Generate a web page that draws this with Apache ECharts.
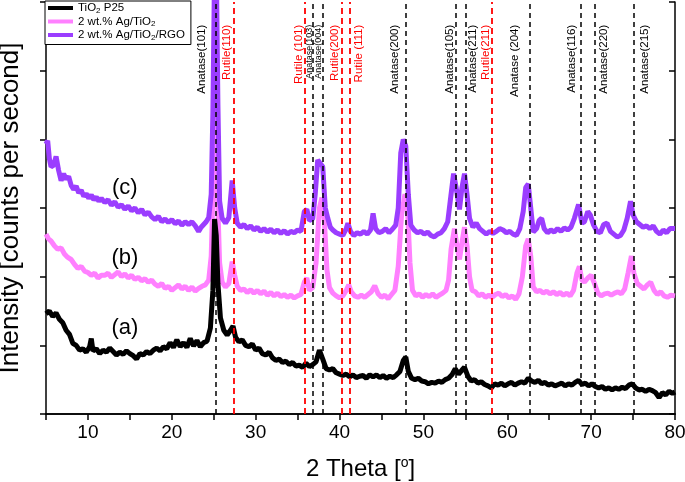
<!DOCTYPE html>
<html><head><meta charset="utf-8">
<script src="https://cdn.jsdelivr.net/npm/echarts@6/dist/echarts.min.js"></script>
<style>html,body{margin:0;padding:0;background:#fff}#c{width:685px;height:482px}</style>
</head><body><div id="c"></div>
<script>
// ---------- data ----------
const seriesNames = ['TiO2 P25', '2 wt.% Ag/TiO2', '2 wt.% Ag/TiO2/RGO'];
const sampleTags = ['(a)', '(b)', '(c)'];
const sampleTagX = [14.4, 14.4, 14.4];
const sampleTagY = [1.25, 2.28, 3.29];
const xTickLabels = [10, 20, 30, 40, 50, 60, 70, 80];
const anataseLines = [25.2, 36.8, 38.0, 47.9, 53.9, 55.1, 62.7, 68.8, 70.4, 75.1];
const rutileLines = [27.4, 35.9, 40.3, 41.2, 58.2];
const peakLabelText = ['Anatase(101)', 'Rutile(110)', 'Rutile (101)', 'Anatase(103)', 'Anatase(004)',
  'Rutile(200)', 'Rutile (111)', 'Anatase(200)', 'Anatase(105)', 'Anatase(211)', 'Rutile(211)',
  'Anatase (204)', 'Anatase(116)', 'Anatase(220)', 'Anatase(215)'];
const peakLabelX = [23.6, 26.6, 35.1, 36.4, 37.5, 39.4, 42.3, 46.6, 53.1, 55.9, 57.5, 60.9, 67.7, 71.5, 76.4];
const peakLabelPhase = ['A', 'R', 'R', 'A', 'A', 'R', 'R', 'A', 'A', 'A', 'R', 'A', 'A', 'A', 'A'];

const tiO2P25 = [
[5.0,1.46],[5.4,1.50],[5.8,1.42],[6.2,1.47],[6.6,1.38],[7.0,1.33],[7.4,1.22],[7.8,1.16],[8.2,1.03],[8.6,1.00],
[9.0,0.93],[9.4,0.95],[9.8,0.90],[10.2,0.98],[10.4,1.10],[10.6,0.92],[11.0,0.95],[11.4,0.88],[11.8,0.93],[12.2,0.90],
[12.6,0.96],[13.0,0.91],[13.4,0.86],[13.8,0.90],[14.2,0.87],[14.6,0.92],[15.0,0.88],[15.4,0.85],[15.8,0.80],[16.2,0.88],
[16.6,0.86],[17.0,0.91],[17.4,0.88],[17.8,0.93],[18.2,0.96],[18.6,0.92],[19.0,0.98],[19.4,0.95],[19.8,1.04],[20.2,0.97],
[20.6,1.08],[21.0,0.98],[21.4,1.04],[21.8,0.97],[22.2,1.10],[22.6,0.99],[23.0,1.07],[23.4,0.98],[23.8,1.04],[24.2,1.06],
[24.6,1.25],[24.9,1.80],[25.1,2.84],[25.3,2.60],[25.5,1.90],[25.8,1.40],[26.2,1.22],[26.6,1.15],[27.0,1.22],[27.3,1.28],
[27.6,1.12],[28.0,1.05],[28.4,1.08],[28.8,1.00],[29.2,0.98],[29.6,1.02],[30.0,0.93],[30.4,0.96],[30.8,0.88],[31.2,0.86],
[31.6,0.90],[32.0,0.82],[32.4,0.78],[32.8,0.80],[33.2,0.75],[33.6,0.77],[34.0,0.72],[34.4,0.75],[34.8,0.70],[35.2,0.71],
[35.6,0.68],[36.0,0.74],[36.4,0.69],[36.8,0.72],[37.2,0.76],[37.6,0.93],[38.0,0.80],[38.4,0.66],[38.8,0.64],[39.2,0.66],
[39.6,0.60],[40.0,0.58],[40.4,0.56],[40.8,0.58],[41.2,0.54],[41.6,0.57],[42.0,0.53],[42.4,0.55],[42.8,0.56],[43.2,0.52],
[43.6,0.57],[44.0,0.54],[44.4,0.57],[44.8,0.53],[45.2,0.56],[45.6,0.52],[46.0,0.55],[46.4,0.53],[46.8,0.57],[47.2,0.62],
[47.6,0.78],[47.9,0.83],[48.2,0.62],[48.6,0.52],[49.0,0.50],[49.4,0.52],[49.8,0.48],[50.2,0.47],[50.6,0.44],[51.0,0.46],
[51.4,0.45],[51.8,0.48],[52.2,0.46],[52.6,0.50],[53.0,0.52],[53.4,0.57],[53.8,0.66],[54.2,0.58],[54.6,0.64],[54.9,0.68],
[55.3,0.55],[55.7,0.48],[56.1,0.50],[56.5,0.45],[56.9,0.47],[57.3,0.43],[57.7,0.41],[58.1,0.38],[58.5,0.44],[58.9,0.42],
[59.3,0.45],[59.7,0.41],[60.1,0.44],[60.5,0.46],[60.9,0.42],[61.3,0.45],[61.7,0.47],[62.1,0.45],[62.5,0.52],[62.9,0.48],
[63.3,0.46],[63.7,0.49],[64.1,0.44],[64.5,0.46],[64.9,0.42],[65.3,0.44],[65.7,0.41],[66.1,0.43],[66.5,0.45],[66.9,0.41],
[67.3,0.44],[67.7,0.42],[68.1,0.46],[68.5,0.49],[68.9,0.43],[69.3,0.45],[69.7,0.41],[70.1,0.44],[70.5,0.40],[70.9,0.38],
[71.3,0.40],[71.7,0.36],[72.1,0.38],[72.5,0.35],[72.9,0.38],[73.3,0.36],[73.7,0.39],[74.1,0.37],[74.5,0.42],[74.9,0.44],
[75.3,0.38],[75.7,0.35],[76.1,0.36],[76.5,0.33],[76.9,0.36],[77.3,0.34],[77.7,0.31],[78.1,0.24],[78.5,0.31],[78.9,0.28],
[79.3,0.33],[79.7,0.30],[80.0,0.32]];

const agTiO2 = [
[5.0,2.62],[5.3,2.55],[5.6,2.52],[6.0,2.45],[6.4,2.40],[6.8,2.42],[7.2,2.33],[7.6,2.28],[8.0,2.25],[8.4,2.18],
[8.8,2.12],[9.2,2.15],[9.6,2.08],[10.0,2.06],[10.4,2.02],[10.8,2.05],[11.2,1.98],[11.6,2.02],[12.0,2.02],[12.4,2.05],
[12.8,1.99],[13.2,2.03],[13.6,2.07],[14.0,2.00],[14.4,2.04],[14.8,1.98],[15.2,2.02],[15.6,1.96],[16.0,1.99],[16.4,1.94],
[16.8,1.97],[17.2,1.92],[17.6,1.95],[18.0,1.89],[18.4,1.86],[18.8,1.90],[19.2,1.83],[19.6,1.86],[20.0,1.80],[20.4,1.84],
[20.8,1.88],[21.2,1.82],[21.6,1.86],[22.0,1.80],[22.4,1.85],[22.8,1.79],[23.2,1.83],[23.6,1.86],[24.0,1.88],[24.4,1.95],
[24.7,2.30],[24.9,3.20],[25.1,4.80],[25.3,4.20],[25.5,3.00],[25.7,2.20],[26.0,1.92],[26.4,1.85],[26.8,1.90],[27.2,2.22],
[27.5,2.02],[27.8,1.86],[28.2,1.80],[28.6,1.82],[29.0,1.77],[29.4,1.81],[29.8,1.76],[30.2,1.80],[30.6,1.75],[31.0,1.79],
[31.4,1.73],[31.8,1.77],[32.2,1.72],[32.6,1.76],[33.0,1.71],[33.4,1.74],[33.8,1.70],[34.2,1.73],[34.6,1.69],[35.0,1.72],
[35.4,1.74],[35.8,1.92],[36.1,1.98],[36.4,1.80],[36.8,1.84],[37.2,2.20],[37.6,3.00],[37.9,3.15],[38.2,2.80],[38.5,2.10],
[38.8,1.84],[39.2,1.76],[39.6,1.72],[40.0,1.69],[40.4,1.72],[40.8,1.80],[41.1,1.88],[41.4,1.78],[41.8,1.72],[42.2,1.70],
[42.6,1.73],[43.0,1.70],[43.4,1.74],[43.8,1.78],[44.2,1.87],[44.6,1.75],[45.0,1.70],[45.4,1.73],[45.8,1.68],[46.2,1.74],
[46.6,1.80],[47.0,2.15],[47.4,2.90],[47.8,3.20],[48.1,3.00],[48.4,2.20],[48.7,1.80],[49.1,1.72],[49.5,1.75],[49.9,1.70],
[50.3,1.74],[50.7,1.71],[51.1,1.75],[51.5,1.70],[51.9,1.73],[52.3,1.76],[52.7,1.80],[53.0,1.95],[53.3,2.40],[53.7,2.70],
[54.0,2.45],[54.3,2.25],[54.6,2.50],[54.9,2.72],[55.2,2.45],[55.5,2.00],[55.8,1.80],[56.2,1.78],[56.6,1.72],[57.0,1.75],
[57.4,1.70],[57.8,1.73],[58.2,1.70],[58.6,1.74],[59.0,1.76],[59.4,1.71],[59.8,1.74],[60.2,1.69],[60.6,1.72],[61.0,1.67],
[61.4,1.75],[61.8,2.00],[62.2,2.45],[62.5,2.55],[62.8,2.30],[63.1,1.85],[63.5,1.78],[63.9,1.80],[64.3,1.76],[64.7,1.79],
[65.1,1.75],[65.5,1.78],[65.9,1.74],[66.3,1.77],[66.7,1.73],[67.1,1.76],[67.5,1.72],[67.9,1.80],[68.3,2.05],[68.6,2.15],
[68.9,1.95],[69.2,1.92],[69.6,1.98],[70.0,2.02],[70.4,1.90],[70.8,1.76],[71.2,1.72],[71.6,1.75],[72.0,1.76],[72.4,1.73],
[72.8,1.76],[73.2,1.78],[73.6,1.75],[74.0,1.82],[74.4,2.05],[74.8,2.30],[75.1,2.05],[75.5,1.90],[75.9,1.86],[76.3,1.82],
[76.7,1.88],[77.1,1.92],[77.5,1.80],[77.9,1.74],[78.3,1.78],[78.7,1.72],[79.1,1.70],[79.5,1.73],[80.0,1.72]];

const agTiO2RGO = [
[5.0,3.93],[5.2,3.98],[5.4,3.72],[5.6,3.60],[5.9,3.62],[6.2,3.75],[6.5,3.55],[6.8,3.40],[7.1,3.50],[7.4,3.42],
[7.7,3.46],[8.0,3.33],[8.3,3.27],[8.6,3.32],[8.9,3.22],[9.2,3.26],[9.5,3.17],[9.8,3.21],[10.1,3.14],[10.4,3.19],
[10.7,3.12],[11.0,3.16],[11.3,3.10],[11.6,3.14],[12.0,3.08],[12.4,3.12],[12.8,3.04],[13.2,3.09],[13.6,3.01],[14.0,3.05],
[14.4,2.98],[14.8,3.03],[15.2,2.96],[15.6,3.00],[16.0,2.93],[16.4,2.98],[16.8,2.90],[17.2,2.94],[17.6,2.87],[18.0,2.83],
[18.4,2.88],[18.8,2.80],[19.2,2.84],[19.6,2.79],[20.0,2.83],[20.4,2.77],[20.8,2.81],[21.2,2.75],[21.6,2.80],[22.0,2.76],
[22.4,2.80],[22.8,2.74],[23.2,2.66],[23.5,2.72],[23.8,2.76],[24.1,2.80],[24.4,2.86],[24.7,3.20],[24.9,4.40],[25.1,6.50],
[25.3,6.60],[25.5,4.50],[25.7,3.10],[26.0,2.85],[26.4,2.78],[26.8,2.86],[27.2,3.40],[27.5,3.00],[27.8,2.78],[28.2,2.72],
[28.6,2.76],[29.0,2.70],[29.4,2.74],[29.8,2.68],[30.2,2.72],[30.6,2.66],[31.0,2.70],[31.4,2.65],[31.8,2.69],[32.2,2.64],
[32.6,2.68],[33.0,2.63],[33.4,2.67],[33.8,2.62],[34.2,2.66],[34.6,2.64],[35.0,2.68],[35.4,2.66],[35.8,2.95],[36.1,2.98],
[36.4,2.82],[36.8,2.84],[37.1,3.20],[37.4,3.70],[37.7,3.65],[38.0,3.60],[38.3,3.00],[38.6,2.85],[38.9,2.72],[39.2,2.68],
[39.6,2.64],[40.0,2.62],[40.4,2.60],[40.8,2.70],[41.0,2.78],[41.3,2.66],[41.7,2.60],[42.1,2.64],[42.5,2.62],[42.9,2.66],
[43.3,2.62],[43.7,2.68],[44.0,2.92],[44.3,2.70],[44.7,2.64],[45.1,2.66],[45.5,2.70],[45.9,2.64],[46.3,2.69],[46.7,2.75],
[47.0,3.00],[47.3,3.80],[47.6,4.00],[47.9,3.90],[48.2,3.20],[48.5,2.75],[48.9,2.68],[49.3,2.64],[49.7,2.66],[50.1,2.62],
[50.5,2.65],[50.9,2.60],[51.3,2.58],[51.7,2.62],[52.1,2.64],[52.5,2.70],[52.9,2.80],[53.2,3.10],[53.6,3.50],[53.9,3.30],
[54.3,2.98],[54.6,3.30],[54.9,3.50],[55.2,3.20],[55.5,2.85],[55.9,2.72],[56.3,2.78],[56.7,2.70],[57.1,2.66],[57.5,2.62],
[57.9,2.66],[58.3,2.63],[58.7,2.66],[59.1,2.70],[59.5,2.68],[59.9,2.64],[60.3,2.66],[60.7,2.62],[61.1,2.60],[61.5,2.70],
[61.9,2.95],[62.2,3.30],[62.5,3.35],[62.8,3.00],[63.1,2.65],[63.5,2.70],[63.8,2.82],[64.1,2.85],[64.4,2.70],[64.8,2.64],
[65.2,2.68],[65.6,2.65],[66.0,2.70],[66.4,2.66],[66.8,2.71],[67.2,2.68],[67.6,2.72],[68.0,2.85],[68.5,3.05],[68.9,2.78],
[69.2,2.80],[69.6,2.95],[69.9,2.90],[70.3,2.75],[70.7,2.66],[71.1,2.64],[71.5,2.76],[71.9,2.78],[72.3,2.66],[72.7,2.62],
[73.1,2.58],[73.5,2.60],[73.9,2.68],[74.3,2.85],[74.7,3.10],[75.0,2.90],[75.4,2.80],[75.8,2.76],[76.2,2.72],[76.6,2.74],
[77.0,2.70],[77.4,2.74],[77.8,2.66],[78.2,2.62],[78.6,2.68],[79.0,2.64],[79.4,2.70],[80.0,2.70]];

// ---------- chart ----------
const FONT = 'Liberation Sans, Arial, Helvetica, sans-serif';
const COLORS = ['#000000', '#ff80ff', '#9b3dff'];
const LABEL_TOP = 5.67;
const smallLabels = {'Anatase(103)': 1, 'Anatase(004)': 1};

const chart = echarts.init(document.getElementById('c'), null, {renderer: 'canvas'});

function lineSeries(i, data, z) {
  return {
    name: seriesNames[i], type: 'line', data: data, showSymbol: false, symbol: 'none',
    lineStyle: {color: COLORS[i], width: 5}, itemStyle: {color: COLORS[i]},
    z: z, clip: true, animation: false
  };
}

function legendFmt(n) {
  const parts = n.split('TiO2');
  let out = '';
  parts.forEach((p, i) => {
    if (p) out += '{n|' + p + '}';
    if (i < parts.length - 1) out += '{n|TiO}{s|2}';
  });
  return out;
}

const option = {
  animation: false,
  backgroundColor: '#ffffff',
  textStyle: {fontFamily: FONT},
  grid: {left: 46, right: 10, top: 2, bottom: 68, containLabel: false, outerBoundsMode: 'none'},
  legend: {
    data: seriesNames, orient: 'vertical', left: 45, top: 1,
    icon: 'rect', itemWidth: 25, itemHeight: 4, itemGap: 1,
    padding: [1, 6, 3, 3], borderColor: '#000', borderWidth: 1, backgroundColor: '#fff',
    formatter: legendFmt,
    textStyle: {
      fontFamily: FONT, fontSize: 11.5, color: '#000',
      rich: {n: {fontFamily: FONT, fontSize: 11.5, color: '#000', lineHeight: 13},
             s: {fontFamily: FONT, fontSize: 8, color: '#000', lineHeight: 8, verticalAlign: 'bottom'}}
    },
    z: 20
  },
  xAxis: [{
    type: 'value', position: 'bottom', min: 5, max: 80, interval: 5,
    name: '2 Theta [{sup|o}]', nameLocation: 'middle', nameGap: 42,
    nameTextStyle: {fontFamily: FONT, fontSize: 24, color: '#000',
      rich: {sup: {fontFamily: FONT, fontSize: 14, color: '#000', verticalAlign: 'top', lineHeight: 26}}},
    axisLine: {show: true, lineStyle: {color: '#000', width: 1.5}},
    axisTick: {show: true, inside: false, length: 6, lineStyle: {color: '#000', width: 1.5}},
    axisLabel: {show: true, fontFamily: FONT, fontSize: 19, color: '#000', margin: 9,
      formatter: function (v) { return xTickLabels.indexOf(v) >= 0 ? String(v) : ''; }},
    splitLine: {show: false}
  }, {
    type: 'value', position: 'top', min: 5, max: 80, interval: 5,
    axisLine: {show: true, lineStyle: {color: '#000', width: 1.5}},
    axisTick: {show: true, inside: true, length: 6, lineStyle: {color: '#000', width: 1.5}},
    axisLabel: {show: false}, splitLine: {show: false}
  }],
  yAxis: [{
    type: 'value', position: 'left', min: 0, max: 6, interval: 1,
    name: 'Intensity [counts per second]', nameLocation: 'middle', nameGap: 22,
    nameTextStyle: {fontFamily: FONT, fontSize: 26, color: '#000'},
    axisLine: {show: true, lineStyle: {color: '#000', width: 1.5}},
    axisTick: {show: true, inside: false, length: 6, lineStyle: {color: '#000', width: 1.5}},
    axisLabel: {show: false}, splitLine: {show: false}
  }, {
    type: 'value', position: 'right', min: 0, max: 6, interval: 1,
    axisLine: {show: true, lineStyle: {color: '#000', width: 1.5}},
    axisTick: {show: true, inside: true, length: 6, lineStyle: {color: '#000', width: 1.5}},
    axisLabel: {show: false}, splitLine: {show: false}
  }],
  series: [
    lineSeries(1, agTiO2, 2),
    lineSeries(2, agTiO2RGO, 3),
    lineSeries(0, tiO2P25, 4),
    {
      type: 'line', data: [], silent: true, z: 6,
      markLine: {
        silent: true, symbol: ['none', 'none'], animation: false, label: {show: false},
        lineStyle: {type: [5, 4], color: '#000', width: 1.5},
        data: anataseLines.map(v => ({xAxis: v}))
      }
    },
    {
      type: 'line', data: [], silent: true, z: 6,
      markLine: {
        silent: true, symbol: ['none', 'none'], animation: false, label: {show: false},
        lineStyle: {type: [6, 4], color: '#ff0000', width: 1.8},
        data: rutileLines.map(v => ({xAxis: v}))
      }
    },
    {
      type: 'scatter', symbolSize: 0, silent: true, z: 8,
      itemStyle: {color: '#000', opacity: 1},
      data: peakLabelText.map((t, i) => ({
        value: [peakLabelX[i], LABEL_TOP], name: t,
        label: {color: peakLabelPhase[i] === 'R' ? '#ff0000' : '#000000',
                fontSize: smallLabels[t] ? 9 : 11.5}
      })),
      label: {show: true, position: [0, 0], rotate: 90, align: 'right', verticalAlign: 'middle',
        opacity: 1, fontFamily: FONT, textBorderWidth: 0, formatter: p => p.name}
    },
    {
      type: 'scatter', symbolSize: 0, silent: true, z: 8,
      itemStyle: {color: '#000', opacity: 1},
      data: sampleTags.map((t, i) => ({value: [sampleTagX[i], sampleTagY[i]], name: t})),
      label: {show: true, position: [0, 0], align: 'center', verticalAlign: 'middle', opacity: 1,
        fontFamily: FONT, fontSize: 22, color: '#000', textBorderWidth: 0, formatter: p => p.name}
    }
  ]
};
chart.setOption(option);
</script>
</body></html>
